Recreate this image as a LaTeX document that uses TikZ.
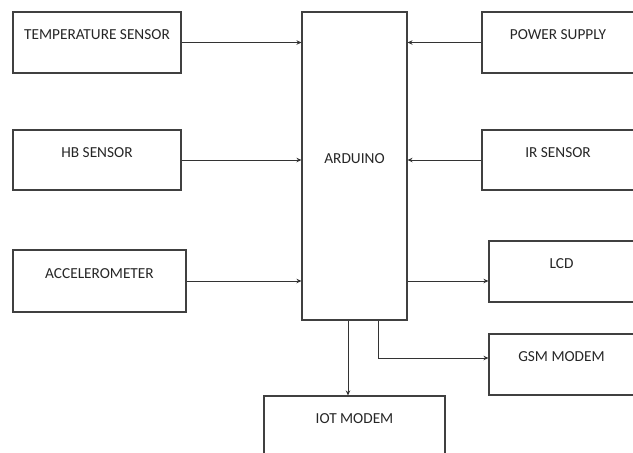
\documentclass[tikz,border=0pt]{standalone}
\usepackage{fontspec}
\setmainfont{Carlito}
\usetikzlibrary{arrows.meta, positioning, calc}

\begin{document}
\begin{tikzpicture}[
    x=1pt, y=-1pt,
    every node/.style={font=\fontsize{15.3}{17}\selectfont, text=black!85},
    block/.style={draw=black!75, line width=1.1pt, rectangle, inner sep=0pt, text height=10pt, text depth=16pt},
    link/.style={draw=black!80, line width=0.9pt, -{Stealth[length=5pt, width=4.5pt]}}
]
\useasboundingbox (0,0) rectangle (633,453);

\node[block, minimum width=168pt, minimum height=61pt] (temp) at (97,42.5) {TEMPERATURE SENSOR};
\node[block, minimum width=168pt, minimum height=60pt] (hb) at (97,160) {HB SENSOR};
\node[block, minimum width=173pt, minimum height=62pt] (acc) at (99.5,281) {ACCELEROMETER};
\node[block, minimum width=105pt, minimum height=308pt] (ard) at (354.5,166) {ARDUINO};
\node[block, minimum width=152pt, minimum height=61pt] (pwr) at (558,42.5) {POWER SUPPLY};
\node[block, minimum width=152pt, minimum height=60pt] (ir) at (558,160) {IR SENSOR};
\node[block, minimum width=145pt, minimum height=61pt] (lcd) at (561.5,271.5) {LCD};
\node[block, minimum width=145pt, minimum height=61pt] (gsm) at (561.5,364.5) {GSM MODEM};
\node[block, minimum width=181pt, minimum height=61pt] (iot) at (354.5,426.5) {IOT MODEM};

\draw[link] (temp.east) -- (temp.east -| ard.west);
\draw[link] (hb.east) -- (hb.east -| ard.west);
\draw[link] (acc.east) -- (acc.east -| ard.west);
\draw[link] (pwr.west) -- (pwr.west -| ard.east);
\draw[link] (ir.west) -- (ir.west -| ard.east);
\draw[link] (ard.east |- acc.east) -- (lcd.west |- acc.east);
\draw[link] ([xshift=23.5pt]ard.south) |- ([yshift=6.5pt]gsm.west);
\draw[link] ([xshift=-6.5pt]ard.south) -- ([xshift=-6.5pt]iot.north);

\end{tikzpicture}
\end{document}
